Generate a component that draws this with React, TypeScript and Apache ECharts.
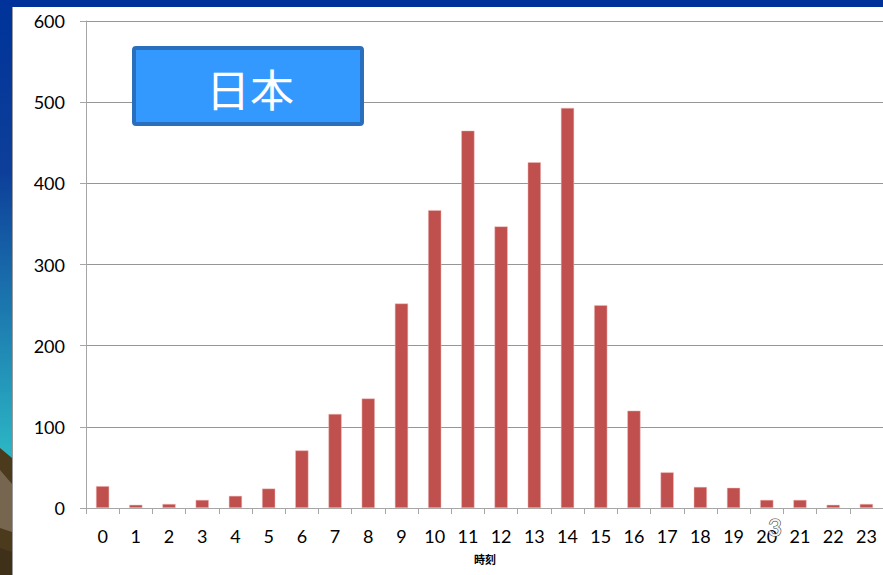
import React, { useEffect, useRef } from "react";
import * as echarts from "echarts";

// Hour of day (x axis)
const hours: string[] = [
  "0", "1", "2", "3", "4", "5", "6", "7", "8", "9", "10", "11",
  "12", "13", "14", "15", "16", "17", "18", "19", "20", "21", "22", "23",
];

// Counts per hour
const counts: number[] = [
  27, 4, 5, 10, 15, 24, 71, 116, 135, 252, 367, 465,
  347, 426, 493, 250, 120, 44, 26, 25, 10, 10, 4, 5,
];

// Value axis ticks
const yMin = 0;
const yMax = 600;
const yStep = 100;

const titleText = "日本";
const axisTitle = "時刻";
const pageNumber = "3";

const W = 883;
const H = 575;

export default function App() {
  const ref = useRef<HTMLDivElement>(null);

  useEffect(() => {
    if (!ref.current) return;
    const chart = echarts.init(ref.current, undefined, { renderer: "svg" });
    const font = "Lato, 'Open Sans', sans-serif";
    const cjk = "'Noto Sans CJK JP', sans-serif";

    chart.setOption({
      animation: false,
      backgroundColor: "#ffffff",
      grid: { left: 86, right: 0, top: 21, bottom: 67, containLabel: false },
      xAxis: {
        type: "category",
        data: hours,
        axisLine: { show: true, lineStyle: { color: "#a6a6a6", width: 1 } },
        axisTick: { show: true, length: 6, lineStyle: { color: "#a6a6a6" } },
        axisLabel: {
          color: "#000",
          fontSize: 18,
          fontFamily: font,
          margin: 19,
          interval: 0,
        },
        splitLine: { show: false },
      },
      yAxis: {
        type: "value",
        min: yMin,
        max: yMax,
        interval: yStep,
        axisLine: { show: true, lineStyle: { color: "#a6a6a6", width: 1 } },
        axisTick: { show: true, length: 6, lineStyle: { color: "#a6a6a6" } },
        axisLabel: {
          color: "#000",
          fontSize: 18,
          fontFamily: font,
          margin: 21,
        },
        splitLine: { show: true, lineStyle: { color: "#969696", width: 1 } },
      },
      series: [
        {
          type: "bar",
          data: counts,
          barWidth: "40%",
          itemStyle: {
            color: "#c0504d",
            borderColor: "rgba(240,190,190,0.8)",
            borderWidth: 0.6,
          },
        },
      ],
      graphic: [
        // slide frame: top band
        {
          type: "rect",
          shape: { x: 0, y: 0, width: W, height: 7 },
          style: { fill: "#003399" },
          z: 100,
        },
        // slide frame: left band with gradient
        {
          type: "rect",
          shape: { x: 0, y: 0, width: 12, height: H },
          style: {
            fill: new echarts.graphic.LinearGradient(0, 0, 0, 1, [
              { offset: 0, color: "#003399" },
              { offset: 0.3, color: "#0d3f9a" },
              { offset: 0.78, color: "#2bb3c4" },
              { offset: 1, color: "#2bb3c4" },
            ]),
          },
          z: 100,
        },
        // landscape at the bottom of the left band
        {
          type: "polygon",
          shape: { points: [[0, 448], [12, 458], [12, 575], [0, 575]] },
          style: { fill: "#4b3a1c" },
          z: 101,
        },
        {
          type: "polygon",
          shape: { points: [[0, 470], [12, 484], [12, 532], [0, 528]] },
          style: { fill: "#766650" },
          z: 102,
        },
        {
          type: "polygon",
          shape: { points: [[0, 548], [12, 552], [12, 575], [0, 575]] },
          style: { fill: "#3f301a" },
          z: 102,
        },
        {
          type: "line",
          shape: { x1: 12.5, y1: 7, x2: 12.5, y2: H },
          style: { stroke: "#9a9a9a", lineWidth: 1 },
          z: 103,
        },
        // title box
        {
          type: "rect",
          shape: { x: 134, y: 48, width: 228, height: 76, r: 2 },
          style: { fill: "#3399ff", stroke: "#2a6fbd", lineWidth: 4 },
          z: 110,
        },
        {
          type: "text",
          x: 250,
          y: 88,
          style: {
            text: titleText,
            fill: "#ffffff",
            fontSize: 44,
            fontFamily: cjk,
            fontWeight: "normal",
            align: "center",
            verticalAlign: "middle",
          },
          z: 111,
        },
        // axis title
        {
          type: "text",
          x: 485,
          y: 559,
          style: {
            text: axisTitle,
            fill: "#000",
            fontSize: 11,
            fontWeight: "bold",
            fontFamily: cjk,
            align: "center",
            verticalAlign: "middle",
          },
          z: 110,
        },
        // slide number
        {
          type: "text",
          x: 775,
          y: 526,
          style: {
            text: pageNumber,
            fill: "#f4f4f4",
            stroke: "#444",
            lineWidth: 1.2,
            fontSize: 24,
            fontFamily: font,
            align: "center",
            verticalAlign: "middle",
          },
          z: 112,
        },
      ],
    });

    return () => chart.dispose();
  }, []);

  return (
    <div
      ref={ref}
      style={{ position: "fixed", left: 0, top: 0, width: W, height: H }}
    />
  );
}
